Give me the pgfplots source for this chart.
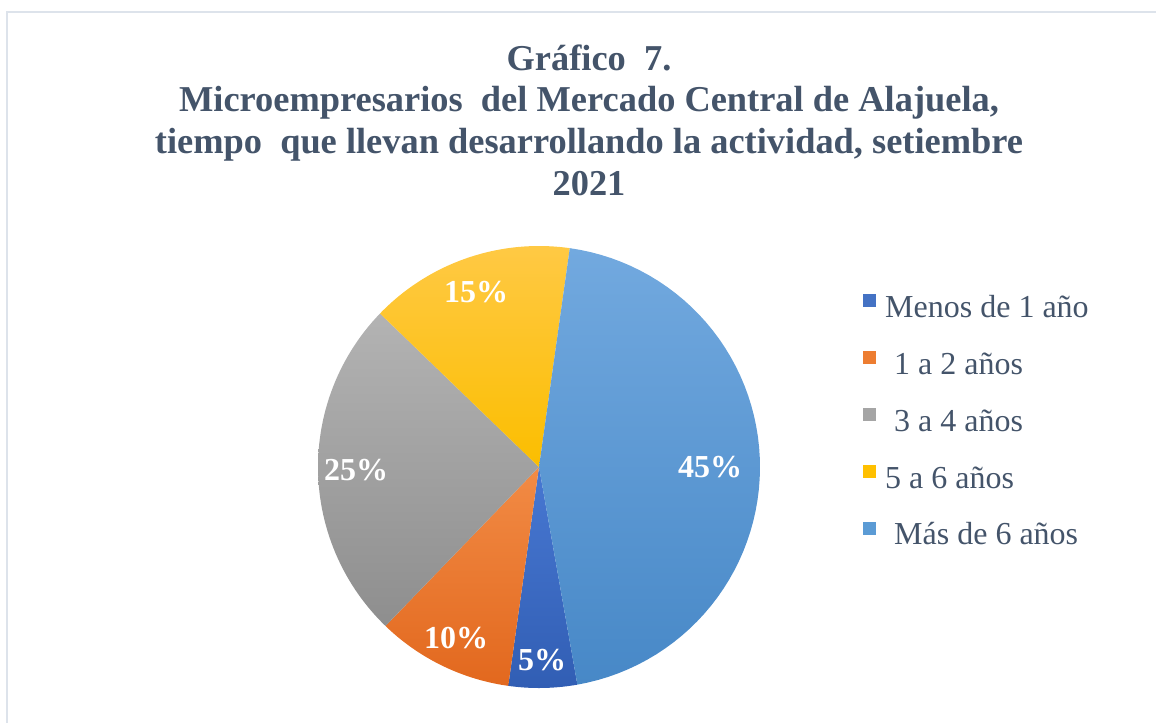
\documentclass[border=0pt]{standalone}
\usepackage{fontspec}
\setmainfont{Liberation Serif}
\usepackage{pgfplots}
\pgfplotsset{compat=1.18}
\definecolor{titlecol}{HTML}{44546A}
\definecolor{bordercol}{HTML}{DDE3EB}
\definecolor{cAtop}{HTML}{4878D2}\definecolor{cAbot}{HTML}{315EB4}\definecolor{cA}{HTML}{4472C4}
\definecolor{cBtop}{HTML}{F28B45}\definecolor{cBbot}{HTML}{E2681E}\definecolor{cB}{HTML}{ED7D31}
\definecolor{cCtop}{HTML}{B3B3B3}\definecolor{cCbot}{HTML}{8E8E8E}\definecolor{cC}{HTML}{A5A5A5}
\definecolor{cDtop}{HTML}{FFC944}\definecolor{cDbot}{HTML}{FBBE00}\definecolor{cD}{HTML}{FFC000}
\definecolor{cEtop}{HTML}{72A9DF}\definecolor{cEbot}{HTML}{4788C7}\definecolor{cE}{HTML}{5B9BD5}
% center (px) and radius (px)
\def\cx{539}\def\cy{467}\def\R{221}
% slice: start cumulative %, value %, top colour, bottom colour
\newcommand{\pieslice}[4]{%
  \pgfmathsetmacro{\aA}{-80-3.6*(#1+#2)}%
  \pgfmathsetmacro{\aB}{-80-3.6*(#1)}%
  \addplot[draw=none, top color=#3, bottom color=#4, domain=\aA:\aB, samples=60, forget plot]
    ({\cx+\R*cos(x)},{\cy-\R*sin(x)}) -- (axis cs:\cx,\cy) -- cycle;
}
\begin{document}
\begin{tikzpicture}
\begin{axis}[
  scale only axis, width=578pt, height=361.5pt,
  xmin=0, xmax=1156, ymin=0, ymax=723, y dir=reverse,
  hide axis, clip=true,
  legend style={at={(axis cs:863,294)}, anchor=north west, draw=none, fill=none,
    inner sep=0pt, row sep=13.5pt, column sep=4.5pt,
    font=\fontsize{16}{18}\selectfont, text=titlecol,
    nodes={inner sep=0pt, text height=11pt, text depth=3.5pt}},
  legend cell align=left,
]
\path (axis cs:0,0) rectangle (axis cs:1156,723);
\draw[bordercol, line width=1.2pt] (axis cs:1156,12) -- (axis cs:7,12) -- (axis cs:7,723);
% data: cumulative start, value (percent), clockwise from the first slice
\pieslice{0}{5}{cAtop}{cAbot}
\pieslice{5}{10}{cBtop}{cBbot}
\pieslice{15}{25}{cCtop}{cCbot}
\pieslice{40}{15}{cDtop}{cDbot}
\pieslice{55}{45}{cEtop}{cEbot}
\pgfplotsset{legend image code/.code={\fill[#1] (0pt,1.5pt) rectangle (6pt,7.5pt);}}
\addlegendimage{cA}\addlegendentry{Menos de 1 año}
\addlegendimage{cB}\addlegendentry{\hspace{4.5pt}1 a 2 años}
\addlegendimage{cC}\addlegendentry{\hspace{4.5pt}3 a 4 años}
\addlegendimage{cD}\addlegendentry{5 a 6 años}
\addlegendimage{cE}\addlegendentry{\hspace{4.5pt}Más de 6 años}
\node[align=center, text=titlecol, font=\fontsize{18.2}{20.8}\selectfont\bfseries] at (axis cs:589,120)
  {Gráfico\ \ 7.\\Microempresarios\ \ del Mercado Central de Alajuela,\\tiempo\ \ que llevan desarrollando la actividad, setiembre\\2021};
\begin{scope}[every node/.style={text=white, font=\fontsize{16}{18}\selectfont\bfseries}]
\node at (axis cs:542,660) {5\%};
\node at (axis cs:456,638) {10\%};
\node at (axis cs:356,470) {25\%};
\node at (axis cs:476,292) {15\%};
\node at (axis cs:710,467) {45\%};
\end{scope}
\end{axis}
\end{tikzpicture}
\end{document}
